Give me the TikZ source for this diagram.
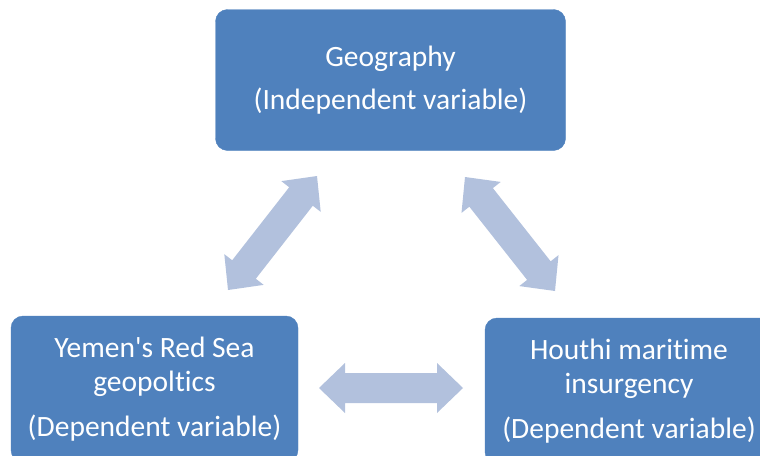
\documentclass[tikz,border=0pt]{standalone}
\usepackage{fontspec}
\setmainfont{Carlito}[Ligatures=NoCommon]
\usetikzlibrary{calc}
\definecolor{boxblue}{RGB}{79,129,189}
\definecolor{arrowblue}{RGB}{178,193,221}
\tikzset{
  varbox/.style={fill=boxblue, draw=boxblue, rounded corners=12pt, text=white,
    align=center, inner sep=0pt, font=\fontsize{29.5}{34}\selectfont},
  linkarrow/.style={fill=arrowblue}
}
% block arrow with a head at both ends, between two named points
\newcommand\twowayarrow[2]{%
  \fill[linkarrow] (#1)
   -- ($(#1)!26pt!(#2)!25pt!90:(#2)$)
   -- ($(#1)!26pt!(#2)!15pt!90:(#2)$)
   -- ($(#2)!26pt!(#1)!15pt!-90:(#1)$)
   -- ($(#2)!26pt!(#1)!25pt!-90:(#1)$)
   -- (#2)
   -- ($(#2)!26pt!(#1)!25pt!90:(#1)$)
   -- ($(#2)!26pt!(#1)!15pt!90:(#1)$)
   -- ($(#1)!26pt!(#2)!15pt!-90:(#2)$)
   -- ($(#1)!26pt!(#2)!25pt!-90:(#2)$)
   -- cycle;}
\begin{document}
\begin{tikzpicture}[x=1pt, y=-1pt]
  \useasboundingbox (0,0) rectangle (760,455);
  \clip (0,0) rectangle (760,455);

  \node[varbox, minimum width=350pt, minimum height=141pt] (geo) at (390.5,80)
    {Geography\\[9pt](Independent variable)};
  \node[varbox, minimum width=287pt, minimum height=146pt] (yemen) at (154.5,389)
    {Yemen\textquotesingle s Red Sea\\geopoltics\\[11pt](Dependent variable)};
  \node[varbox, minimum width=288pt, minimum height=146pt] (houthi) at (629,391)
    {Houthi maritime\\insurgency\\[11pt](Dependent variable)};

  % arrow tips
  \coordinate (yg-a) at (228,290);
  \coordinate (yg-b) at (317,176);
  \coordinate (gh-a) at (465,177);
  \coordinate (gh-b) at (555,291);
  \coordinate (yh-a) at (319,388);
  \coordinate (yh-b) at (463,388);

  \twowayarrow{yg-a}{yg-b}
  \twowayarrow{gh-a}{gh-b}
  \twowayarrow{yh-a}{yh-b}
\end{tikzpicture}
\end{document}
